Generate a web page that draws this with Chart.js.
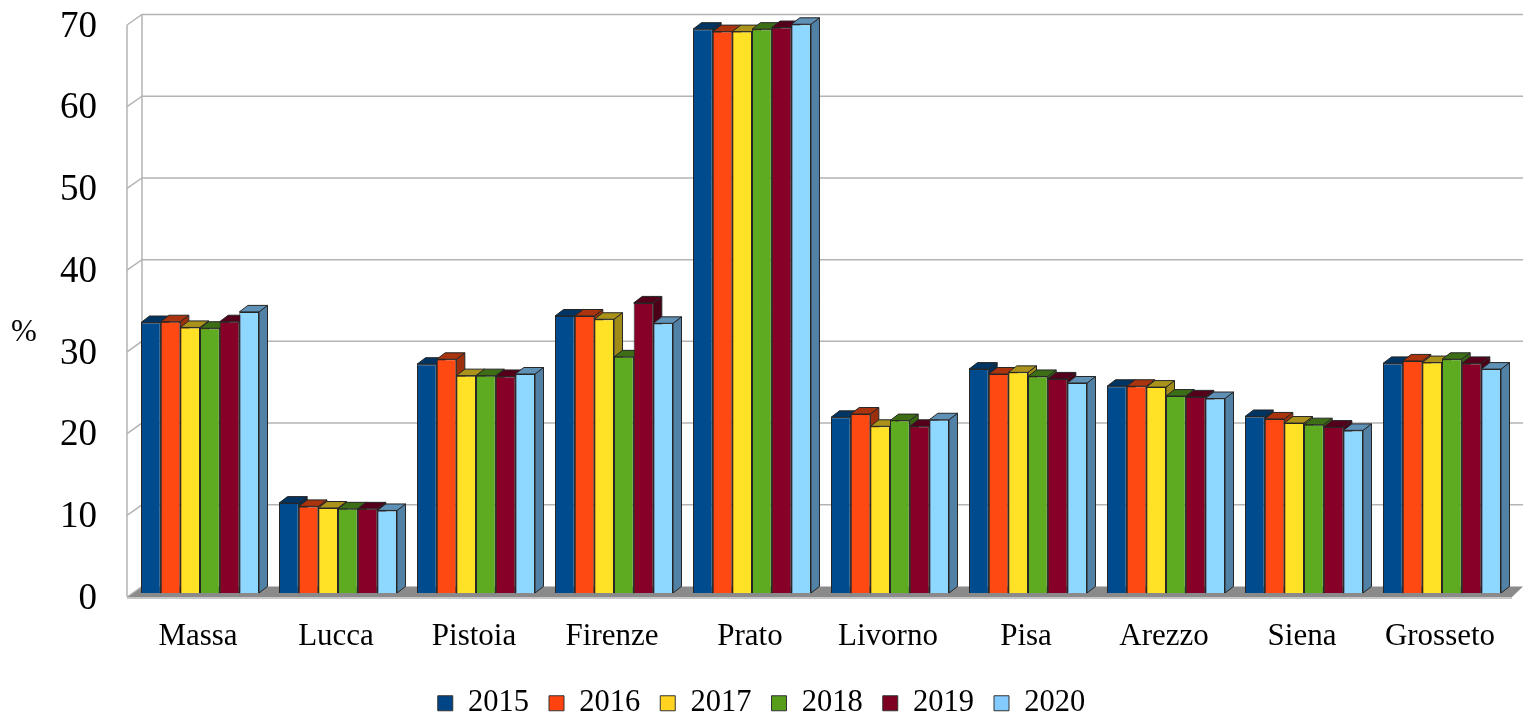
<!DOCTYPE html>
<html>
<head>
<meta charset="utf-8">
<title>Province</title>
<script src="https://cdn.jsdelivr.net/npm/chart.js@4.4.1/dist/chart.umd.min.js"></script>
<style>
  html, body { margin: 0; padding: 0; background: #ffffff; }
  #wrap { width: 1523px; height: 717px; position: relative; }
</style>
</head>
<body>
<div id="wrap"><canvas id="c" width="1523" height="717"></canvas></div>
<script>
// ---- data ----
const provinces = ['Massa', 'Lucca', 'Pistoia', 'Firenze', 'Prato', 'Livorno', 'Pisa', 'Arezzo', 'Siena', 'Grosseto'];
const years = ['2015', '2016', '2017', '2018', '2019', '2020'];
const v2015 = [33.1, 11.0, 28.0, 33.9, 69.0, 21.5, 27.4, 25.3, 21.6, 28.1];
const v2016 = [33.2, 10.6, 28.6, 33.9, 68.7, 21.9, 26.8, 25.3, 21.3, 28.4];
const v2017 = [32.5, 10.4, 26.6, 33.5, 68.7, 20.4, 27.0, 25.2, 20.8, 28.2];
const v2018 = [32.4, 10.3, 26.6, 28.9, 69.0, 21.1, 26.5, 24.1, 20.6, 28.6];
const v2019 = [33.2, 10.3, 26.5, 35.5, 69.2, 20.4, 26.2, 24.0, 20.3, 28.1];
const v2020 = [34.4, 10.1, 26.8, 33.0, 69.6, 21.2, 25.7, 23.8, 19.9, 27.4];
const yTicks = [0, 10, 20, 30, 40, 50, 60, 70];

// ---- styling ----
const frontColors  = ['#004b8e', '#ff4912', '#ffe226', '#5eaa20', '#860027', '#8ed8ff'];
const topColors    = ['#003462', '#a9340e', '#ab931b', '#3d6e16', '#55001a', '#5f90b6'];
const sideColors   = ['#002f58', '#9c300d', '#a08a18', '#386614', '#4c0017', '#5281a6'];
const legendColors = ['#004586', '#ff420e', '#ffd320', '#579d1c', '#7e0021', '#83caff'];
const edgeColor = '#262626';
const serif = "'Liberation Serif', 'Times New Roman', serif";

const valueSets = [v2015, v2016, v2017, v2018, v2019, v2020];

// depth of each column and of the walls
const BAR_DX = 8.5, BAR_DY = 6.5;
const WALL_FRONT_X = -4, WALL_BACK_X = 11;
const WALL_FRONT_Y = 4, WALL_BACK_Y = -6.5;

function drawWalls(chart) {
  const { ctx, chartArea: ca, scales: { y } } = chart;
  const fx = ca.left + WALL_FRONT_X, bx = ca.left + WALL_BACK_X;
  const y0 = y.getPixelForValue(0);
  const W = chart.width;
  // floor
  ctx.fillStyle = '#8a8a8a';
  ctx.beginPath();
  ctx.moveTo(fx, y0 + WALL_FRONT_Y);
  ctx.lineTo(bx, y0 + WALL_BACK_Y);
  ctx.lineTo(W, y0 + WALL_BACK_Y);
  ctx.lineTo(ca.right + 1, y0 + WALL_FRONT_Y);
  ctx.closePath();
  ctx.fill();
  ctx.fillStyle = '#c6c6c6';
  ctx.fillRect(fx, y0 + WALL_FRONT_Y, ca.right + 1 - fx, 2);

  // side wall edges and back wall grid
  ctx.strokeStyle = '#b4b4b4';
  ctx.lineWidth = 1.5;
  const top = y.getPixelForValue(yTicks[yTicks.length - 1]);
  ctx.beginPath();
  ctx.moveTo(fx, top + WALL_FRONT_Y);
  ctx.lineTo(fx, y0 + WALL_FRONT_Y);
  ctx.moveTo(bx, top + WALL_BACK_Y);
  ctx.lineTo(bx, y0 + WALL_BACK_Y);
  ctx.stroke();
  yTicks.forEach(v => {
    const p = y.getPixelForValue(v);
    ctx.beginPath();
    ctx.moveTo(fx, p + WALL_FRONT_Y);
    ctx.lineTo(bx, p + WALL_BACK_Y);
    if (v > 0) ctx.lineTo(W, p + WALL_BACK_Y);
    ctx.stroke();
  });
}

// top and right faces of every column, painted left to right inside each group;
// the front faces drawn afterwards by the bar controller cover what lies behind them
function drawColumnDepth(chart) {
  const { ctx } = chart;
  const metas = years.map((_, i) => chart.getDatasetMeta(i));
  ctx.strokeStyle = edgeColor;
  ctx.lineWidth = 1;
  ctx.lineJoin = 'round';
  provinces.forEach((_, j) => {
    metas.forEach((meta, i) => {
      const bar = meta.data[j];
      if (!bar) return;
      const { x, y, width, base } = bar.getProps(['x', 'y', 'width', 'base'], true);
      const l = x - width / 2, r = x + width / 2;
      ctx.fillStyle = sideColors[i];
      ctx.beginPath();
      ctx.moveTo(r, y);
      ctx.lineTo(r + BAR_DX, y - BAR_DY);
      ctx.lineTo(r + BAR_DX, base - BAR_DY);
      ctx.lineTo(r, base);
      ctx.closePath();
      ctx.fill();
      ctx.stroke();
      ctx.fillStyle = topColors[i];
      ctx.beginPath();
      ctx.moveTo(l, y);
      ctx.lineTo(l + BAR_DX, y - BAR_DY);
      ctx.lineTo(r + BAR_DX, y - BAR_DY);
      ctx.lineTo(r, y);
      ctx.closePath();
      ctx.fill();
      ctx.stroke();
    });
  });
}

const box3d = {
  id: 'box3d',
  beforeDatasetsDraw(chart) {
    chart.ctx.save();
    drawWalls(chart);
    drawColumnDepth(chart);
    chart.ctx.restore();
  },
  afterDraw(chart) {
    const { ctx } = chart;
    ctx.save();
    ctx.font = '31px ' + serif;
    ctx.fillStyle = '#000';
    ctx.textAlign = 'center';
    ctx.textBaseline = 'middle';
    ctx.fillText('%', 24, 333);
    ctx.restore();
  }
};

new Chart(document.getElementById('c'), {
  type: 'bar',
  data: {
    labels: provinces,
    datasets: years.map((yr, i) => ({
      label: yr,
      data: valueSets[i],
      backgroundColor: frontColors[i],
      borderColor: edgeColor,
      borderWidth: 1,
      categoryPercentage: 0.855,
      barPercentage: 1.0
    }))
  },
  plugins: [box3d],
  options: {
    responsive: false,
    animation: false,
    devicePixelRatio: 1,
    layout: { padding: { top: 21, right: 12, left: 12, bottom: 0 } },
    plugins: {
      tooltip: { enabled: false },
      legend: {
        position: 'bottom',
        maxHeight: 49,
        labels: {
          boxWidth: 15,
          boxHeight: 15,
          padding: 20,
          color: '#000',
          font: { family: serif, size: 30.5 },
          generateLabels(chart) {
            return chart.data.datasets.map((ds, i) => ({
              text: ds.label,
              fillStyle: legendColors[i],
              strokeStyle: '#333333',
              lineWidth: 1,
              hidden: false,
              datasetIndex: i
            }));
          }
        }
      }
    },
    scales: {
      x: {
        afterFit(s) { s.height = 75; s.paddingLeft = 0; s.paddingRight = 0; },
        grid: { display: false, drawTicks: false },
        border: { display: false },
        ticks: {
          padding: 25,
          labelOffset: -2,
          maxRotation: 0,
          autoSkip: false,
          color: '#000',
          font: { family: serif, size: 31 }
        }
      },
      y: {
        min: 0,
        max: 70,
        afterFit(s) { s.width = 119; s.paddingTop = 0; s.paddingBottom = 0; },
        afterBuildTicks(s) { s.ticks = yTicks.map(v => ({ value: v })); },
        grid: { display: false, drawTicks: false },
        border: { display: false },
        ticks: {
          padding: 34,
          labelOffset: 6,
          color: '#000',
          font: { family: serif, size: 37 }
        }
      }
    }
  }
});
</script>
</body>
</html>
